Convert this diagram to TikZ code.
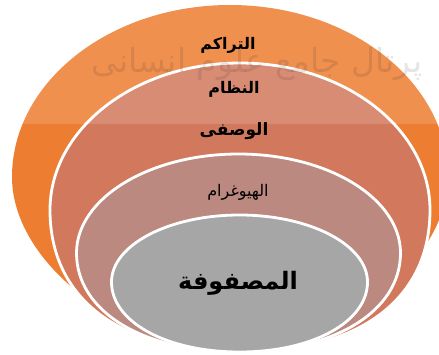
\documentclass[tikz,border=0pt]{standalone}
\usepackage{fontspec}
\newfontfamily\arabicfont[Script=Arabic]{DejaVu Sans}
\TeXXeTstate=1
\usetikzlibrary{positioning}
\definecolor{ringOrange}{HTML}{ED7D31}
\definecolor{ringRust}{HTML}{D2785C}
\definecolor{ringRose}{HTML}{BB8980}
\definecolor{ringGrey}{HTML}{A6A6A6}
\tikzstyle{ring}=[draw=white,line width=2.8pt]
\tikzstyle{tag}=[inner sep=0pt,text=black]
% #1 style, #2 cx, #3 cy, #4 rx, #5 upper ry, #6 lower ry, #7 fullness of the lower half
\newcommand{\newRing}[7]{\path[ring,#1]
  ({#2-#4},{#3}) .. controls ({#2-#4},{#3+0.552*#5}) and ({#2-0.552*#4},{#3+#5}) .. ({#2},{#3+#5})
  .. controls ({#2+0.552*#4},{#3+#5}) and ({#2+#4},{#3+0.552*#5}) .. ({#2+#4},{#3})
  .. controls ({#2+#4},{#3-#7*#6}) and ({#2+#7*#4},{#3-#6}) .. ({#2},{#3-#6})
  .. controls ({#2-#7*#4},{#3-#6}) and ({#2-#4},{#3-#7*#6}) .. cycle;}
\newcommand{\newTag}[4]{\node[tag,#3](#1)[#4]{\beginR #2\endR};}

\begin{document}
\begin{tikzpicture}[x=1pt,y=1pt,node distance=8pt]
  \useasboundingbox (0,0) rectangle (439,354);
  \clip (0,0) rectangle (439,354);
  \newRing{draw=none,fill=ringOrange}{230}{177}{218}{172}{170}{0.5}
  \newRing{fill=ringRust}{240}{144}{190}{147}{142}{0.63}
  \newRing{fill=ringRose}{238.5}{101}{162}{99}{99}{0.59}
  \newRing{fill=ringGrey}{239.5}{72}{128}{67}{70}{0.57}
  % watermark of the source
  \node[text=black,opacity=0.12,font=\arabicfont\fontsize{33}{40}\selectfont] (mark) at (257,290) {\beginR پرتال جامع علوم انسانی\endR};
  % lighter top band
  \fill[white,opacity=0.15] (0,230) rectangle (439,354);
  \newTag{accum}{التراكم}{font=\arabicfont\bfseries\fontsize{16}{18}\selectfont}{at={(228,309)}}
  \newTag{sys}{النظام}{font=\arabicfont\bfseries\fontsize{16}{18}\selectfont}{at={(234,265)}}
  \newTag{desc}{الوصفى}{font=\arabicfont\bfseries\fontsize{17}{18}\selectfont}{below=25pt of sys.south}
  \newTag{hist}{الهيوغرام}{font=\arabicfont\fontsize{16}{18}\selectfont}{at={(238,162)}}
  \newTag{mat}{المصفوفة}{font=\arabicfont\bfseries\fontsize{24}{28}\selectfont}{at={(238,71)}}
\end{tikzpicture}
\end{document}
